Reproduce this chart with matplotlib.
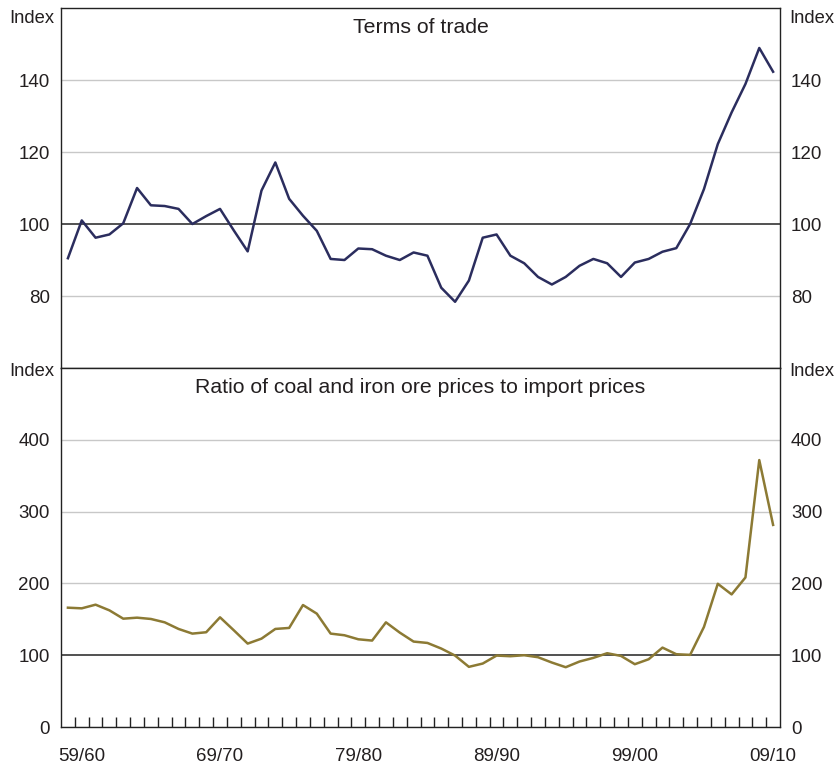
import matplotlib
matplotlib.use("Agg")
import matplotlib.pyplot as plt
import numpy as np

plt.rcParams["font.family"] = ["Liberation Sans", "DejaVu Sans"]

# financial years 1958/59 .. 2009/10 (one value per year)
year_labels = ["59/60", "69/70", "79/80", "89/90", "99/00", "09/10"]
label_slots = [1, 11, 21, 31, 41, 51]

terms_of_trade = [
    90.5, 101, 96.2, 97.1, 100.2, 110, 105.2, 105, 104.2, 100,
    102.2, 104.2, 98.2, 92.4, 109.3, 117.1, 107, 102.3, 98.1, 90.3,
    90, 93.2, 93, 91.2, 90, 92.1, 91.2, 82.3, 78.4, 84.3,
    96.2, 97.1, 91.2, 89.1, 85.3, 83.2, 85.3, 88.4, 90.3, 89.1,
    85.3, 89.3, 90.3, 92.3, 93.3, 100, 109.7, 122.2, 131, 138.9,
    148.9, 142.3,
]

coal_iron_ratio = [
    166.2, 165.3, 170.4, 162.5, 150.9, 152.3, 150.5, 145.8, 136.6, 130.1,
    132, 152.8, 134.7, 116.2, 123.1, 136.6, 138, 169.9, 157.9, 130.1,
    127.8, 122.2, 120.4, 145.8, 131.5, 119, 117.1, 109.3, 99.5, 83.8,
    88.4, 99.5, 98.6, 100, 97.2, 89.8, 83.3, 91.2, 96.3, 102.8,
    99, 87.5, 94.4, 110.6, 101.4, 100.5, 139.4, 199.5, 184.7, 208.3,
    371.8, 281.5,
]

top_ticks = [80, 100, 120, 140]
bottom_ticks = [0, 100, 200, 300, 400]

NAVY = "#2b2d5e"
GOLD = "#8c7a34"
GRID = "#c8c8c8"
AXIS = "#222222"
TXT = "#231f20"

fig = plt.figure(figsize=(8.38, 7.64), dpi=100)
ax1 = fig.add_axes([0.0728, 0.5183, 0.8580, 0.4712])
ax2 = fig.add_axes([0.0728, 0.0484, 0.8580, 0.4699])

x = np.arange(len(terms_of_trade))


def style(ax, ticks, ylim, title):
    ax.set_xlim(-0.5, len(x) - 0.5)
    ax.set_ylim(*ylim)
    ax.set_yticks(ticks)
    for t in ticks:
        ax.axhline(t, color=AXIS if t == 100 else GRID,
                   linewidth=1.1 if t == 100 else 1.0, zorder=1)
    ax.tick_params(axis="y", length=0, labelsize=13.5, colors=TXT, pad=8,
                   labelright=True, right=False)
    for sp in ax.spines.values():
        sp.set_color(AXIS)
        sp.set_linewidth(1.0)
    ax.text(0.5, 0.945, title, transform=ax.transAxes, ha="center", va="center",
            fontsize=15.3, color=TXT)


ax1.plot(x, terms_of_trade, color=NAVY, linewidth=1.8, zorder=3)
style(ax1, top_ticks, (60, 160), "Terms of trade")
ax1.set_xticks([])

ax2.plot(x, coal_iron_ratio, color=GOLD, linewidth=1.8, zorder=3)
style(ax2, bottom_ticks, (0, 500), "Ratio of coal and iron ore prices to import prices")
ax2.set_xticks(np.arange(1, len(x)) - 0.5)
ax2.tick_params(axis="x", which="major", direction="in", length=7.5,
                width=1.0, color=AXIS, labelbottom=False)
ax2.set_xticks(label_slots, minor=True)
ax2.set_xticklabels(year_labels, minor=True)
ax2.tick_params(axis="x", which="minor", length=0, pad=15, labelsize=13.5,
                colors=TXT)

for ypos in (0.9755, 0.5131):
    fig.text(0.0645, ypos, "Index", ha="right", va="center", fontsize=13.2, color=TXT)
    fig.text(0.9420, ypos, "Index", ha="left", va="center", fontsize=13.2, color=TXT)

fig.savefig("out.png", dpi=100, facecolor="white")
